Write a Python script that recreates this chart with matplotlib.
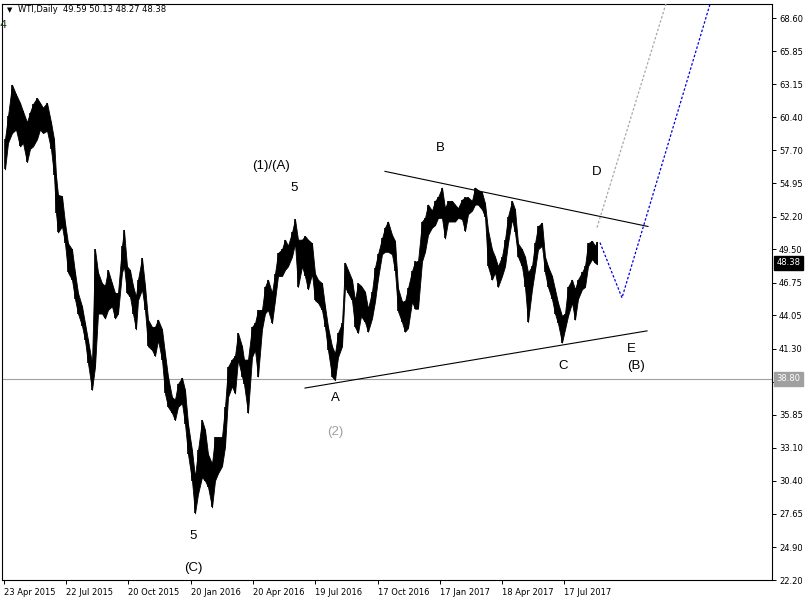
import matplotlib
matplotlib.use('Agg')
import matplotlib.pyplot as plt
import matplotlib.transforms as mtransforms

# trading day (0 ~ 20 Apr 2015) of each sampled stretch of daily bars, with its high/low
days = [2, 5, 9, 13, 17, 20, 24, 27, 30, 34, 37, 40, 44, 48, 51, 53, 55, 59, 62, 65,
        69, 72, 75, 79, 82, 85, 89, 92, 95, 99, 102, 105, 109, 112, 115, 119,
        121, 124, 127, 130, 133, 135, 139, 142, 145, 149, 152, 155, 159, 162, 165, 169,
        172, 175, 179, 182, 185, 189, 192, 195, 199, 202, 205, 209, 212, 215, 219, 222,
        225, 229, 232, 235, 239, 241,
        245, 249, 252, 255, 259, 262, 265, 269, 272, 275, 279, 282, 285, 289, 292, 295,
        299, 302, 305, 309, 312, 315, 319, 322, 325, 329, 332, 335, 339, 342, 345, 349,
        352, 355,
        358, 362, 365, 369, 372, 375, 379, 382, 385, 389, 392, 395, 399, 402, 405, 409,
        412, 415, 419, 422, 425, 429, 432, 435, 439, 442, 445, 449, 452, 455, 459, 462,
        465, 469, 472, 475,
        479, 482, 485, 489, 492, 495, 499, 502, 505, 509, 512, 515, 519, 522, 525, 529,
        532, 535, 539, 542, 545, 549, 552, 555, 559, 562, 565, 569, 572, 575, 579, 582,
        585, 589, 592, 594]
highs = [58.6, 60.5, 63.1, 62.3, 61.6, 60.9, 60.0, 60.8, 61.5, 62.0, 61.6, 61.2, 61.6, 60.0,
         58.6, 55.6, 54.0, 53.9, 51.7, 50.0, 49.5, 47.6, 45.9, 44.8, 43.4, 42.0, 40.1, 49.5,
         47.6, 46.7, 46.5, 47.8, 46.7, 45.9, 45.9, 49.8,
         51.1, 48.1, 47.8, 46.5, 45.6, 47.0, 48.8, 46.5, 43.7, 43.1, 43.1, 43.7, 42.9, 40.9,
         39.0, 37.3, 37.1, 38.4, 38.9, 37.9, 35.1, 32.9, 30.7, 32.9, 35.4, 34.6, 32.6, 31.8,
         34.0, 34.0, 34.0, 36.5, 39.8, 40.4, 40.7, 42.6, 41.5, 40.4,
         40.4, 43.1, 43.4, 44.5, 44.5, 46.4, 47.0, 45.9, 47.5, 49.2, 49.5, 50.3, 49.8, 50.9,
         52.0, 50.3, 50.3, 50.6, 50.3, 50.0, 47.5, 47.0, 46.7, 44.8, 43.1, 41.5, 40.9, 42.6,
         43.4, 48.4, 47.8, 47.0, 45.3, 46.7,
         46.5, 46.0, 44.6, 46.0, 48.0, 49.1, 50.4, 51.3, 51.8, 50.7, 50.2, 46.3, 45.2, 45.2,
         46.3, 47.7, 48.5, 48.5, 51.8, 52.1, 53.2, 52.7, 53.5, 53.8, 54.6, 52.9, 53.5, 53.5,
         53.2, 52.9, 53.6, 53.8, 53.8, 53.5, 54.6, 54.4,
         54.2, 53.3, 51.1, 49.5, 48.9, 48.1, 48.9, 50.3, 52.2, 53.5, 52.8, 50.0, 49.5, 48.9,
         47.6, 48.1, 50.0, 51.4, 51.7, 48.9, 48.1, 47.3, 46.2, 45.1, 44.0, 44.2, 46.4, 47.0,
         46.2, 47.0, 47.6, 48.1, 50.0, 50.2, 49.8, 50.13]
lows = [56.1, 58.3, 59.1, 59.4, 58.0, 58.3, 56.7, 57.8, 58.0, 58.6, 59.4, 59.1, 59.3, 57.8,
        55.6, 52.5, 50.9, 51.4, 50.0, 47.6, 47.0, 45.4, 44.2, 43.2, 42.0, 40.1, 37.9, 39.8,
        44.2, 44.2, 43.8, 44.5, 44.8, 43.8, 44.2, 47.6,
        48.1, 45.9, 45.6, 44.2, 42.9, 45.3, 46.2, 44.5, 41.5, 41.2, 40.7, 42.0, 40.4, 37.6,
        36.5, 36.0, 35.4, 36.5, 36.8, 35.1, 32.6, 30.4, 27.7, 29.3, 30.7, 30.4, 29.9, 28.2,
        30.4, 31.0, 31.6, 33.2, 37.3, 38.2, 37.6, 40.4, 39.0, 38.4,
        36.0, 40.6, 41.2, 39.0, 42.9, 44.2, 44.5, 43.4, 45.3, 47.3, 47.3, 47.8, 48.1, 48.9,
        50.0, 46.4, 48.1, 47.3, 46.2, 47.5, 45.3, 45.1, 44.5, 43.1, 41.2, 39.0, 38.7, 40.6,
        41.5, 46.4, 45.9, 45.3, 43.1, 42.6,
        44.0, 43.5, 42.7, 43.8, 45.2, 47.1, 49.1, 49.3, 49.3, 49.1, 47.7, 44.4, 43.5, 42.7,
        43.0, 45.2, 44.6, 44.6, 48.5, 49.3, 50.7, 51.3, 51.5, 52.1, 52.1, 50.4, 51.8, 51.8,
        51.8, 52.1, 52.0, 51.0, 52.4, 52.7, 53.2, 53.2,
        52.8, 52.2, 48.1, 47.0, 47.6, 46.4, 47.3, 48.1, 50.0, 52.0, 50.9, 48.9, 48.1, 46.4,
        43.5, 46.2, 47.8, 49.5, 49.8, 47.6, 46.4, 45.4, 44.2, 43.4, 41.8, 42.9, 44.0, 45.1,
        43.7, 45.4, 46.2, 46.4, 48.1, 48.7, 48.4, 48.27]

last_ohlc = [49.59, 50.13, 48.27, 48.38]
level = 38.80

date_days = [1, 63, 125, 188, 250, 312, 375, 437, 499, 561]
date_labels = ['23 Apr 2015', '22 Jul 2015', '20 Oct 2015', '20 Jan 2016', '20 Apr 2016',
               '19 Jul 2016', '17 Oct 2016', '17 Jan 2017', '18 Apr 2017', '17 Jul 2017']
price_ticks = [68.60, 65.85, 63.15, 60.40, 57.70, 54.95, 52.20, 49.50, 46.75, 44.05,
               41.30, 38.55, 35.85, 33.10, 30.40, 27.65, 24.90, 22.20]

# triangle trendlines and projected paths (day, price)
upper_days, upper_prices = [382, 645], [55.94, 51.39]
lower_days, lower_prices = [302, 644], [38.05, 42.77]
grey_days, grey_prices = [594, 669], [51.3, 71.4]
blue_days, blue_prices = [597, 619, 713], [50.06, 45.5, 71.4]

wave_text = ['(1)/(A)', '5', 'B', 'D', 'A', '(2)', 'C', 'E', '(B)', '5', '(C)']
wave_days = [268, 291, 437, 594, 332, 332, 560, 628, 633, 190, 190]
wave_prices = [56.35, 54.53, 57.84, 55.86, 37.23, 34.41, 39.88, 41.28, 39.88, 25.80, 23.23]
wave_colors = ['black'] * 5 + ['#a0a0a0'] + ['black'] * 5

fig = plt.figure(figsize=(8.11, 6.04), dpi=100)
fig.patch.set_facecolor('white')
ax = fig.add_axes([2 / 811, 24 / 604, 770 / 811, 576 / 604])
ax.set_xlim(-1, 769)
ax.set_ylim(22.20, 69.76)

ax.axhline(level, color='#a0a0a0', lw=0.8, zorder=1)
ax.fill_between(days, lows, highs, color='black', lw=0.6, edgecolor='black', zorder=3)
ax.vlines(days, lows, highs, color='black', lw=1.2, zorder=3)

ax.plot(upper_days, upper_prices, color='black', lw=0.8, zorder=4)
ax.plot(lower_days, lower_prices, color='black', lw=0.8, zorder=4)
ax.plot(grey_days, grey_prices, color='#a8a8a8', lw=0.9, ls=(0, (2, 1.5)), zorder=4)
ax.plot(blue_days, blue_prices, color='#0000e0', lw=0.9, ls=(0, (2, 1.5)), zorder=4)

for txt, d, p, c in zip(wave_text, wave_days, wave_prices, wave_colors):
    ax.text(d, p, txt, color=c, fontsize=9.5, family='Liberation Sans',
            ha='center', va='center', zorder=5)

for s in ax.spines.values():
    s.set_color('black')
    s.set_linewidth(0.8)

ax.set_xticks(date_days)
ax.set_xticklabels(date_labels)
for lab in ax.get_xticklabels():
    lab.set_ha('left')
ax.set_yticks(price_ticks)
# the 38.55 label sits under the grey level box, so only its tick shows
ax.set_yticklabels(['' if abs(t - level) < 0.5 else '%.2f' % t for t in price_ticks])
ax.yaxis.tick_right()
ax.tick_params(axis='both', direction='out', length=3, width=0.7, labelsize=6,
               colors='black', pad=2)
ax.tick_params(axis='x', pad=3)

trans = mtransforms.blended_transform_factory(ax.transAxes, ax.transData)
ax.text(1.006, last_ohlc[3], '%.2f' % last_ohlc[3], transform=trans, color='white',
        fontsize=6, va='center', ha='left', clip_on=False, zorder=6,
        bbox=dict(boxstyle='square,pad=0.3', fc='black', ec='black'))
ax.text(1.006, level, '%.2f' % level, transform=trans, color='white',
        fontsize=6, va='center', ha='left', clip_on=False, zorder=6,
        bbox=dict(boxstyle='square,pad=0.3', fc='#a0a0a0', ec='#a0a0a0'))

fig.text(7 / 811, 1 - 10 / 604, '\u25bc', fontsize=5, va='center', ha='left')
fig.text(18 / 811, 1 - 10 / 604, 'WTI,Daily  ' + ' '.join('%.2f' % v for v in last_ohlc),
         fontsize=6, va='center', ha='left')
fig.text(-1 / 811, 1 - 25 / 604, '4', fontsize=8, color='#1f3a1f', va='center', ha='left')

fig.savefig('out.png', dpi=100)
